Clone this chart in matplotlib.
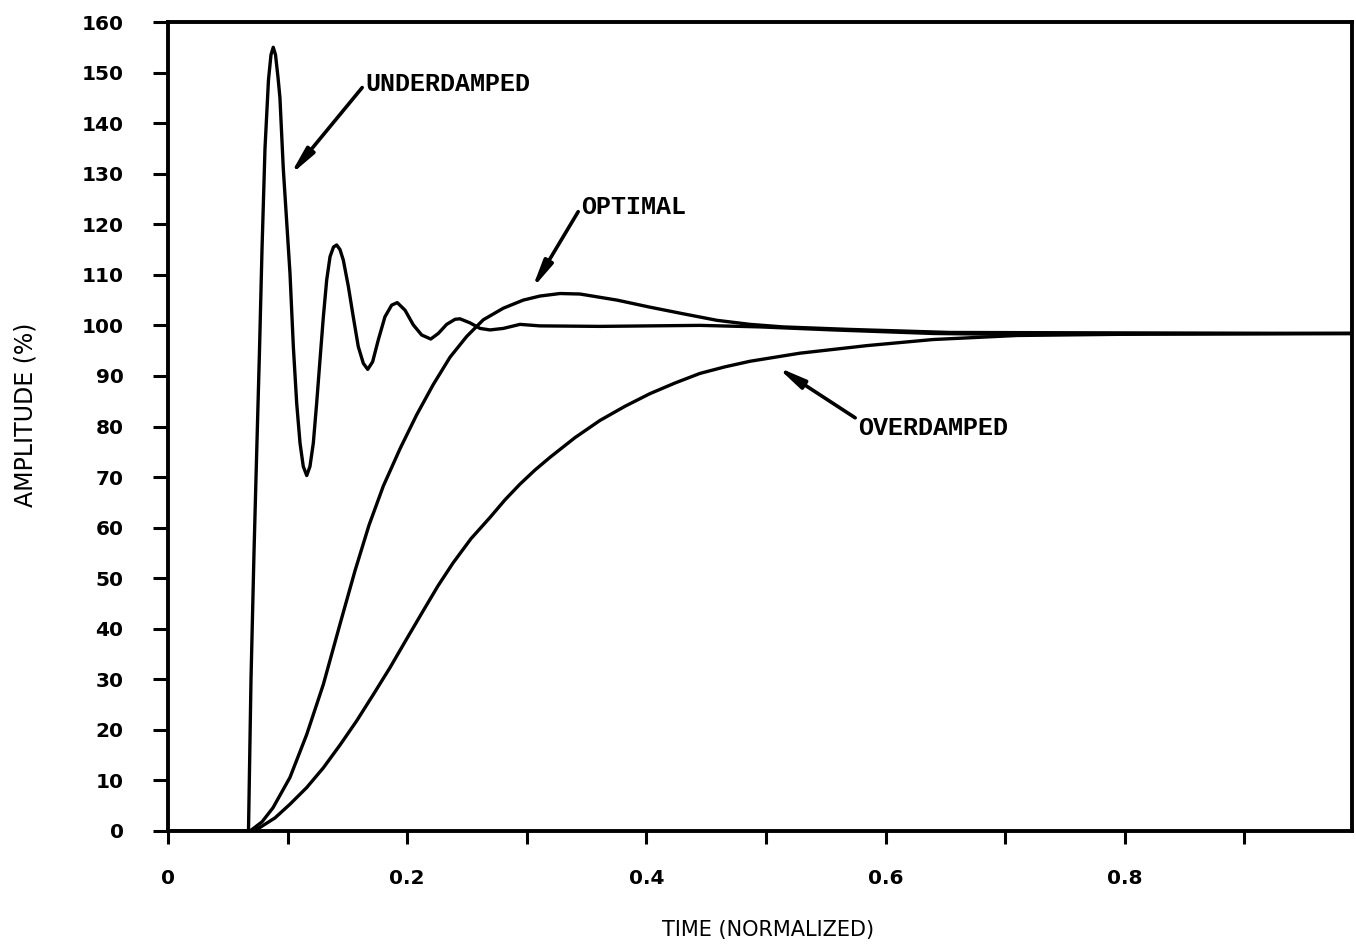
import numpy as np
import matplotlib
matplotlib.use("Agg")
import matplotlib.pyplot as plt

# (time normalized, amplitude %)
under_t = [0.0, 0.0673, 0.0694, 0.0719, 0.0736, 0.0765, 0.0786, 0.0811, 0.0840, 0.0861,
           0.0880, 0.0899, 0.0920, 0.0936, 0.0964, 0.0991, 0.1020, 0.1048, 0.1076, 0.1104,
           0.1131, 0.1160, 0.1187, 0.1215, 0.1243, 0.1271, 0.1299, 0.1327, 0.1355, 0.1384,
           0.1410, 0.1438, 0.1466, 0.1508, 0.1549, 0.1591, 0.1633, 0.1670, 0.1711, 0.1758,
           0.1814, 0.1870, 0.1917, 0.1982, 0.2051, 0.2121, 0.2197, 0.2260, 0.2330, 0.2400,
           0.2441, 0.2525, 0.2609, 0.2692, 0.2804, 0.2943, 0.3110, 0.3612, 0.4448, 0.4950,
           0.5560, 0.6396, 0.7099, 0.99]
under_a = [0, 0, 30, 55, 70, 95, 115, 135, 148.5, 153.5,
           155, 153.5, 149, 145, 131, 121, 110.3, 95.8, 84.6, 76.7,
           72.1, 70.3, 72.1, 76.7, 84.6, 93.2, 101.7, 109, 113.6, 115.5,
           115.9, 115, 112.9, 107.7, 101.7, 95.8, 92.5, 91.3, 92.8, 97.1,
           101.7, 104, 104.5, 103, 100.1, 98.1, 97.3, 98.4, 100.2, 101.2,
           101.3, 100.5, 99.4, 99.1, 99.4, 100.2, 99.9, 99.8, 100, 99.7,
           99.1, 98.4, 98.2, 98.4]

opt_t = [0.0686, 0.0786, 0.0878, 0.1020, 0.1160, 0.1299, 0.1438, 0.1564, 0.1681, 0.1800,
         0.1940, 0.2079, 0.2218, 0.2358, 0.2497, 0.2636, 0.2804, 0.2971, 0.3110, 0.3278,
         0.3445, 0.3754, 0.4030, 0.4306, 0.4590, 0.4866, 0.5142, 0.5702, 0.6538, 0.99]
opt_a = [0, 1.8, 4.6, 10.6, 19.1, 29, 40.9, 51.5, 60.5, 68.2,
         75.6, 82.3, 88.3, 93.7, 97.8, 101.1, 103.4, 105, 105.8, 106.3,
         106.2, 105, 103.6, 102.3, 101, 100.2, 99.7, 99.2, 98.6, 98.4]

over_t = [0.0686, 0.0769, 0.0895, 0.1020, 0.1160, 0.1299, 0.1438, 0.1578, 0.1717, 0.1856,
          0.1996, 0.2135, 0.2258, 0.2383, 0.2533, 0.2692, 0.2818, 0.2943, 0.3069, 0.3194,
          0.3403, 0.3612, 0.3821, 0.4030, 0.4239, 0.4448, 0.4657, 0.4866, 0.5284, 0.5845,
          0.6396, 0.7099, 0.8211, 0.99]
over_a = [0, 0.7, 2.6, 5.3, 8.6, 12.5, 17, 21.8, 27, 32.3,
          38, 43.6, 48.5, 53, 57.8, 62, 65.5, 68.6, 71.4, 73.9,
          77.8, 81.2, 84, 86.5, 88.6, 90.5, 91.8, 92.9, 94.5, 96.0,
          97.2, 98.0, 98.3, 98.4]

# label text, arrow tip, text anchor
labels = ["UNDERDAMPED", "OPTIMAL", "OVERDAMPED"]
tips = [(0.1020, 129.7), (0.3043, 107.2), (0.5092, 91.8)]
anchors = [(0.1647, 147.7), (0.3453, 123.4), (0.5769, 79.7)]
tails = [(0, 0.5), (0, 0.5), (0, 0.85)]

xmajor = [0, 0.2, 0.4, 0.6, 0.8]
xlabels = ["0", "0.2", "0.4", "0.6", "0.8"]
xminor = [0.1, 0.3, 0.5, 0.7, 0.9]
yticks = np.arange(0, 161, 10)

fig = plt.figure(figsize=(13.56, 9.48), dpi=100)
ax = fig.add_axes([168/1356, 117/948, 1184/1356, 809/948])

ax.plot(under_t, under_a, color="black", lw=2.4, solid_joinstyle="round")
ax.plot(opt_t, opt_a, color="black", lw=2.4, solid_joinstyle="round")
ax.plot(over_t, over_a, color="black", lw=2.4, solid_joinstyle="round")

for lab, tip, anc, rp in zip(labels, tips, anchors, tails):
    ax.annotate(lab, xy=tip, xytext=anc, ha="left", va="center",
                fontsize=18, family="Liberation Mono", fontweight="bold",
                arrowprops=dict(arrowstyle="-|>,head_length=0.9,head_width=0.16",
                                color="black", lw=2.6, relpos=rp,
                                shrinkA=0, shrinkB=0))

ax.set_xlim(0, 0.99)
ax.set_ylim(0, 160)
ax.set_xticks(xmajor)
ax.set_xticklabels(xlabels)
ax.set_xticks(xminor, minor=True)
ax.set_yticks(yticks)

for s in ax.spines.values():
    s.set_linewidth(2.8)

ax.tick_params(axis="x", which="both", direction="out", length=9, width=2.2,
               pad=18, labelsize=14.5)
ax.tick_params(axis="y", direction="out", length=11, width=2.2, pad=21,
               labelsize=14.5)
for lab in ax.get_xticklabels() + ax.get_yticklabels():
    lab.set_fontweight("bold")

fig.text(768/1356, 1 - 930/948, "TIME (NORMALIZED)", ha="center", va="center",
         fontsize=15)
fig.text(26/1356, 1 - 415/948, "AMPLITUDE (%)", ha="center", va="center",
         rotation=90, fontsize=17)

fig.savefig("out.png", dpi=100)
